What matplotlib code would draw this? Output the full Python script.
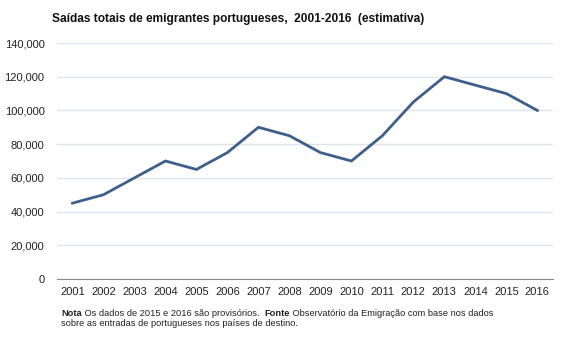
"""Saidas totais de emigrantes portugueses, 2001-2016"""

import numpy as np
import matplotlib
matplotlib.use("Agg")
import matplotlib.pyplot as plt
from matplotlib.ticker import FuncFormatter

plt.rcParams['font.family'] = ['Liberation Sans', 'DejaVu Sans']

# data
years = ['2001', '2002', '2003', '2004', '2005', '2006', '2007', '2008',
         '2009', '2010', '2011', '2012', '2013', '2014', '2015', '2016']
saidas = [45000, 50000, 60000, 70000, 65000, 75000, 90000, 85000,
          75000, 70000, 85000, 105000, 120000, 115000, 110000, 100000]
yticks = [0, 20000, 40000, 60000, 80000, 100000, 120000, 140000]

title = 'Saídas totais de emigrantes portugueses,  2001-2016  (estimativa)'

fig = plt.figure(figsize=(5.67, 3.4), dpi=100)
ax = fig.add_axes([0.1005, 0.1794, 0.8745, 0.6941])

x = np.arange(len(years))
ax.plot(x, saidas, color='#3e5f8a', lw=2, solid_joinstyle='miter')

ax.set_xlim(-0.5, len(years) - 0.5)
ax.set_ylim(0, 140000)
ax.set_yticks(yticks)
ax.yaxis.set_major_formatter(FuncFormatter(lambda v, p: '{:,.0f}'.format(v)))
ax.set_xticks(x)
ax.set_xticklabels(years)
ax.tick_params(length=0, labelsize=8, colors='#222222')
ax.tick_params(axis='y', pad=9)
ax.tick_params(axis='x', pad=6)

ax.grid(axis='y', color='#dfe3ea', lw=1)
ax.set_axisbelow(True)
for s in ['top', 'right', 'left']:
    ax.spines[s].set_visible(False)
ax.spines['bottom'].set_color('#8a8a8a')

fig.text(52 / 567, 0.945, title, fontsize=8.6, fontweight='bold', va='center', color='#111111')

# note with bold keywords
fig.canvas.draw()
rend = fig.canvas.get_renderer()
parts = [('Nota', 'bold'), (' Os dados de 2015 e 2016 são provisórios.  ', 'normal'),
         ('Fonte', 'bold'), (' Observatório da Emigração com base nos dados', 'normal')]
xpos = 61
for s, w in parts:
    t = fig.text(xpos / 567, 1 - 313 / 340, s, fontsize=6.7, fontweight=w,
                 va='center', color='#222222')
    xpos += t.get_window_extent(rend).width
fig.text(61 / 567, 1 - 324 / 340, 'sobre as entradas de portugueses nos países de destino.',
         fontsize=6.7, va='center', color='#222222')

fig.savefig('out.png', dpi=100)
